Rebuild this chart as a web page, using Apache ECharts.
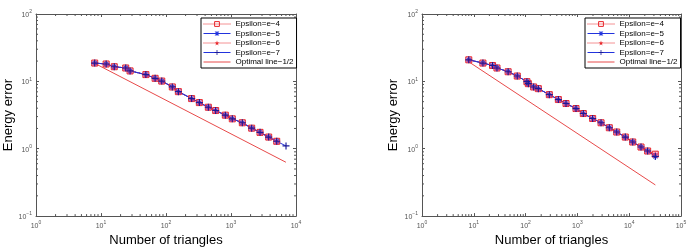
<!DOCTYPE html>
<html><head><meta charset="utf-8">
<script src="https://cdn.jsdelivr.net/npm/echarts@6/dist/echarts.min.js"></script>
<style>html,body{margin:0;padding:0;background:#fff}#c{width:692px;height:252px}</style>
</head><body><div id="c"></div>
<script>
// ---- data ----
const seriesNames = ['Epsilon=e−4', 'Epsilon=e−5', 'Epsilon=e−6', 'Epsilon=e−7', 'Optimal line−1/2'];

// left chart
const leftN    = [8, 12, 16, 24, 28, 49, 68, 86, 125, 155, 248, 326, 448, 581, 818, 1047, 1493, 2080, 2795, 3800, 5050];
const leftErr  = [18.7, 18.1, 16.5, 15.8, 14.3, 12.6, 11.1, 10.1, 8.27, 7.04, 5.55, 4.84, 4.13, 3.69, 3.15, 2.78, 2.43, 2.02, 1.75, 1.49, 1.29];
const leftN7   = [8, 12, 16, 24, 28, 49, 68, 86, 125, 155, 248, 326, 448, 581, 818, 1047, 1493, 2080, 2795, 3800, 5050, 7020];
const leftErr7 = [18.7, 18.1, 16.5, 15.8, 14.3, 12.6, 11.1, 10.1, 8.27, 7.04, 5.55, 4.84, 4.13, 3.69, 3.15, 2.78, 2.43, 2.02, 1.75, 1.49, 1.29, 1.10];
const leftOptN   = [8, 7000];
const leftOptErr = [18.5, 0.63];

// right chart
const rightN       = [8, 15, 23, 28, 46, 69, 106, 113, 143, 176, 287, 429, 603, 940, 1300, 1970, 2860, 4130, 5740, 8410, 11700, 16900, 22700, 31900];
const rightErrRed  = [20.9, 18.7, 17.2, 15.8, 13.9, 12.0, 9.9, 9.25, 8.26, 7.8, 6.35, 5.37, 4.69, 3.95, 3.33, 2.81, 2.43, 2.05, 1.77, 1.49, 1.26, 1.06, 0.925, 0.83];
const rightErrBlue = [20.9, 18.7, 17.2, 15.8, 13.9, 12.0, 9.9, 9.25, 8.26, 7.8, 6.35, 5.37, 4.69, 3.95, 3.33, 2.81, 2.43, 2.05, 1.77, 1.49, 1.26, 1.06, 0.925, 0.77];
const rightOptN   = [8, 32000];
const rightOptErr = [19.5, 0.29];

// axis ranges
const leftXRange  = [1, 10000];
const rightXRange = [1, 100000];
const yRange      = [0.1, 100];
const minorMultipliers = [2, 3, 4, 5, 6, 7, 8, 9];

// ---- helpers ----
const FONT = '"Liberation Sans", Arial, Helvetica, sans-serif';
const RED = '#e8262a', BLUE = '#2233dd', AX = '#555';
const zip = (a, b) => a.map((v, i) => [v, b[i]]);

const SYM_PLUS = 'path://M5,0H7V5H12V7H7V12H5V7H0V5H5Z';
const SYM_AST = 'path://M5,0H7V5H12V7H7V12H5V7H0V5H5Z M0.3,1.7L1.7,0.3L11.7,10.3L10.3,11.7Z M10.3,0.3L11.7,1.7L1.7,11.7L0.3,10.3Z';
const SYM_STAR = 'path://M10,0L12.245,6.91L19.51,6.91L13.63,11.18L15.88,18.09L10,13.82L4.12,18.09L6.37,11.18L0.49,6.91L7.755,6.91Z';

function minorVals(range) {
  const out = [];
  const d0 = Math.round(Math.log10(range[0])), d1 = Math.round(Math.log10(range[1]));
  for (let d = d0; d < d1; d++) minorMultipliers.forEach(m => out.push(m * Math.pow(10, d)));
  return out;
}

function labelFmt(v) {
  const e = Math.round(Math.log10(v));
  return '{b|10}{s|' + (e < 0 ? '−' + (-e) : e) + '}';
}
const rich = {
  b: { fontSize: 7, color: AX, fontFamily: FONT, lineHeight: 9, verticalAlign: 'bottom' },
  s: { fontSize: 5, color: AX, fontFamily: FONT, lineHeight: 5, verticalAlign: 'top' }
};

function xAxes(gridIndex, range) {
  return [{
    type: 'log', logBase: 10, gridIndex, position: 'bottom', min: range[0], max: range[1],
    axisLine: { show: true, lineStyle: { color: AX, width: 1 } },
    axisTick: { show: true, inside: true, length: 3, lineStyle: { color: AX } },
    axisLabel: { show: true, formatter: labelFmt, rich, margin: 4 },
    splitLine: { show: false },
    name: 'Number of triangles', nameLocation: 'middle', nameGap: 16,
    nameTextStyle: { fontSize: 13, color: '#000', fontFamily: FONT }
  }, {
    type: 'log', logBase: 10, gridIndex, position: 'top', min: range[0], max: range[1],
    axisLine: { show: true, lineStyle: { color: AX, width: 1 } },
    axisTick: { show: true, inside: true, length: 3, lineStyle: { color: AX } },
    axisLabel: { show: false }, splitLine: { show: false }
  }];
}
function yAxes(gridIndex, nameGap) {
  return [{
    type: 'log', logBase: 10, gridIndex, position: 'left', min: yRange[0], max: yRange[1],
    axisLine: { show: true, lineStyle: { color: AX, width: 1 } },
    axisTick: { show: true, inside: true, length: 3, lineStyle: { color: AX } },
    axisLabel: { show: true, formatter: labelFmt, rich, margin: 4 },
    splitLine: { show: false },
    name: 'Energy error', nameLocation: 'middle', nameGap,
    nameTextStyle: { fontSize: 13, color: '#000', fontFamily: FONT }
  }, {
    type: 'log', logBase: 10, gridIndex, position: 'right', min: yRange[0], max: yRange[1],
    axisLine: { show: true, lineStyle: { color: AX, width: 1 } },
    axisTick: { show: true, inside: true, length: 3, lineStyle: { color: AX } },
    axisLabel: { show: false }, splitLine: { show: false }
  }];
}

function minorSeries(axisIdx, xr) {
  const xs = minorVals(xr).map(v => [v, 1, 0]);
  const ys = minorVals(yRange).map(v => [10, v, 1]);
  return {
    type: 'custom', xAxisIndex: axisIdx, yAxisIndex: axisIdx, silent: true, clip: false, z: 1,
    data: xs.concat(ys),
    renderItem(params, api) {
      const cs = params.coordSys;
      const kind = api.value(2);
      const st = { stroke: AX, lineWidth: 1 };
      if (kind === 0) {
        const x = api.coord([api.value(0), 1])[0];
        const b = cs.y + cs.height, t = cs.y;
        return { type: 'group', children: [
          { type: 'line', shape: { x1: x, y1: b, x2: x, y2: b - 2 }, style: st },
          { type: 'line', shape: { x1: x, y1: t, x2: x, y2: t + 2 }, style: st }] };
      } else {
        const y = api.coord([10, api.value(1)])[1];
        const l = cs.x, r = cs.x + cs.width;
        return { type: 'group', children: [
          { type: 'line', shape: { x1: l, y1: y, x2: l + 2, y2: y }, style: st },
          { type: 'line', shape: { x1: r, y1: y, x2: r - 2, y2: y }, style: st }] };
      }
    }
  };
}

function dataSeries(axisIdx, d4, d5, d6, d7, dOpt) {
  const base = { type: 'line', xAxisIndex: axisIdx, yAxisIndex: axisIdx, symbolSize: 6, z: 3 };
  return [
    Object.assign({}, base, { name: seriesNames[0], data: d4, symbol: 'rect',
      lineStyle: { color: RED, width: 1, type: 'dotted' },
      itemStyle: { color: 'rgba(230,90,150,0.35)', borderColor: RED, borderWidth: 1 } }),
    Object.assign({}, base, { name: seriesNames[1], data: d5, symbol: SYM_AST, symbolSize: 5,
      lineStyle: { color: BLUE, width: 1 }, itemStyle: { color: BLUE } }),
    Object.assign({}, base, { name: seriesNames[2], data: d6, symbol: SYM_STAR, symbolSize: 7,
      lineStyle: { color: RED, width: 1, type: 'dotted' }, itemStyle: { color: '#e0407a' } }),
    Object.assign({}, base, { name: seriesNames[3], data: d7, symbol: SYM_PLUS, symbolSize: 7,
      lineStyle: { color: BLUE, width: 1 }, itemStyle: { color: '#1a1a99' } }),
    Object.assign({}, base, { name: seriesNames[4], data: dOpt, symbol: 'none',
      lineStyle: { color: '#e84a4a', width: 1 }, itemStyle: { color: '#e84a4a' } })
  ];
}

function legend(left) {
  return {
    left, top: 18, orient: 'vertical', selectedMode: false,
    data: [
      { name: seriesNames[0], itemStyle: { color: 'rgba(0,0,0,0)', borderColor: RED, borderWidth: 1 } },
      { name: seriesNames[1] },
      { name: seriesNames[2], itemStyle: { color: RED } },
      { name: seriesNames[3] },
      { name: seriesNames[4], itemStyle: { opacity: 0 } }
    ],
    itemWidth: 27, itemHeight: 6, itemGap: 1.5, padding: [2, 3, 2, 2],
    lineStyle: { width: 1 },
    backgroundColor: '#fff', borderColor: '#000', borderWidth: 1,
    textStyle: { fontSize: 8, color: '#000', fontFamily: FONT, lineHeight: 8 }
  };
}

const chart = echarts.init(document.getElementById('c'), null, { renderer: 'canvas' });
chart.setOption({
  animation: false,
  backgroundColor: '#fff',
  grid: [
    { left: 36, top: 14, width: 260, height: 203 },
    { left: 422, top: 14, width: 259, height: 203 }
  ],
  xAxis: xAxes(0, leftXRange).concat(xAxes(1, rightXRange)),
  yAxis: yAxes(0, 20).concat(yAxes(1, 22)),
  legend: [legend(201), legend(585)],
  series: [
    minorSeries(0, leftXRange),
    minorSeries(2, rightXRange)
  ].concat(
    dataSeries(0, zip(leftN, leftErr), zip(leftN, leftErr), zip(leftN, leftErr), zip(leftN7, leftErr7), zip(leftOptN, leftOptErr)),
    dataSeries(2, zip(rightN, rightErrRed), zip(rightN, rightErrBlue), zip(rightN, rightErrRed), zip(rightN, rightErrBlue), zip(rightOptN, rightOptErr))
  )
});
</script></body></html>
